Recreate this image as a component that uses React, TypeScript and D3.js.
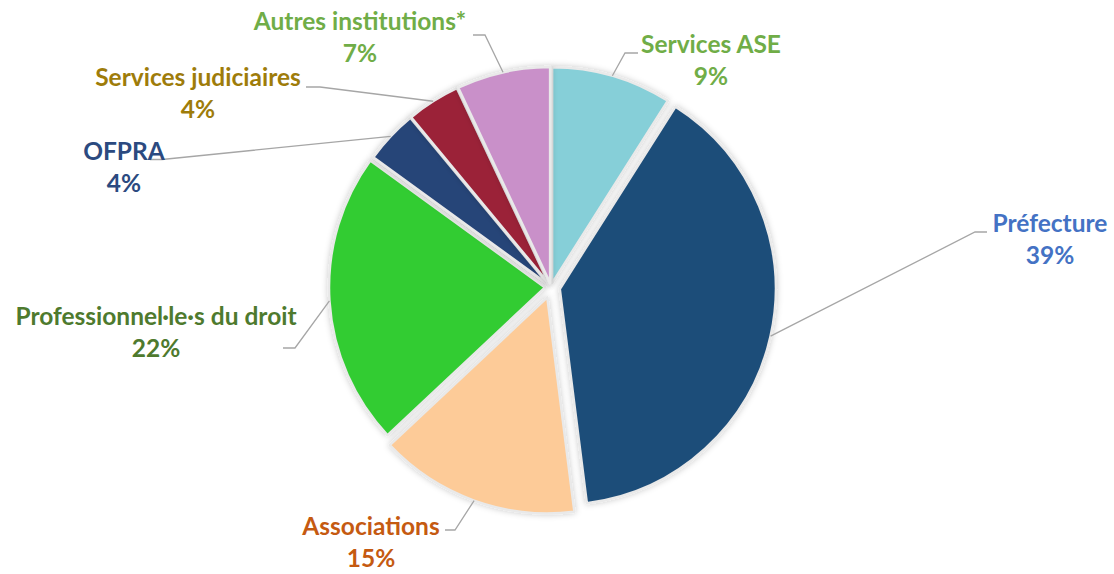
import React from "react";
import * as d3 from "d3";

const categories = [
  "Services ASE",
  "Préfecture",
  "Associations",
  "Professionnel·le·s du droit",
  "OFPRA",
  "Services judiciaires",
  "Autres institutions*",
];
const values = [9, 39, 15, 22, 4, 4, 7];
const sliceColors = ["#86CFD8", "#1F4E79", "#FDCB98", "#33CC33", "#264478", "#9B2139", "#C990C9"];
const labelColors = ["#70AD47", "#4472C4", "#C55A11", "#4E7A2E", "#2B4A80", "#9E7C0A", "#70AD47"];
// explosion offset per slice (px)
const explode = [4, 9, 11, 6, 4, 4, 4];
// label centres (x, first baseline)
const labelPos: [number, number][] = [
  [711, 53],
  [1050, 232],
  [371, 535],
  [156, 325],
  [124, 160],
  [198, 86],
  [360, 30],
];
const elbows: [number, number, number][] = [
  // [startX, startY, elbowX]
  [638, 53, 625],
  [987, 232, 975],
  [445, 530, 455],
  [283, 348, 295],
  [150, 159.5, 162],
  [306, 87, 320],
  [473, 35, 485],
];

const W = 1114;
const H = 574;
const cx = 551;
const cy = 287;
const R = 216;

export default function App() {
  const pie = d3
    .pie<number>()
    .sort(null)
    .value((d) => d)(values);
  const arc = d3.arc<d3.PieArcDatum<number>>().innerRadius(0).outerRadius(R);
  const font = "Lato, 'Open Sans', sans-serif";
  const fs = 24.5;

  return (
    <svg width={W} height={H} style={{ position: "absolute", left: 0, top: 0, background: "#fff" }}>
      <defs>
        <filter id="sh" x="-20%" y="-20%" width="140%" height="140%">
          <feDropShadow dx="0" dy="0" stdDeviation="3" floodColor="#000" floodOpacity="0.22" />
        </filter>
      </defs>
      <g transform={`translate(${cx},${cy})`}>
        {pie.map((p, i) => {
          const mid = (p.startAngle + p.endAngle) / 2;
          const ox = Math.sin(mid) * explode[i];
          const oy = -Math.cos(mid) * explode[i];
          return (
            <path
              key={i}
              d={arc(p) || ""}
              transform={`translate(${ox},${oy})`}
              fill={sliceColors[i]}
              stroke="#e9e9e9"
              strokeWidth={2.5}
              strokeLinejoin="round"
              filter="url(#sh)"
            />
          );
        })}
      </g>
      {pie.map((p, i) => {
        const mid = (p.startAngle + p.endAngle) / 2;
        const ex = cx + Math.sin(mid) * (R + explode[i]);
        const ey = cy - Math.cos(mid) * (R + explode[i]);
        const [sx, sy, elx] = elbows[i];
        return (
          <polyline
            key={"l" + i}
            points={`${sx},${sy} ${elx},${sy} ${ex},${ey}`}
            fill="none"
            stroke="#A6A6A6"
            strokeWidth={1.3}
          />
        );
      })}
      {categories.map((c, i) => (
        <text
          key={"t" + i}
          x={labelPos[i][0]}
          y={labelPos[i][1]}
          textAnchor="middle"
          fontFamily={font}
          fontWeight="bold"
          fontSize={fs}
          fill={labelColors[i]}
        >
          <tspan x={labelPos[i][0]}>{c}</tspan>
          <tspan x={labelPos[i][0]} dy={32}>
            {values[i]}%
          </tspan>
        </text>
      ))}
    </svg>
  );
}
